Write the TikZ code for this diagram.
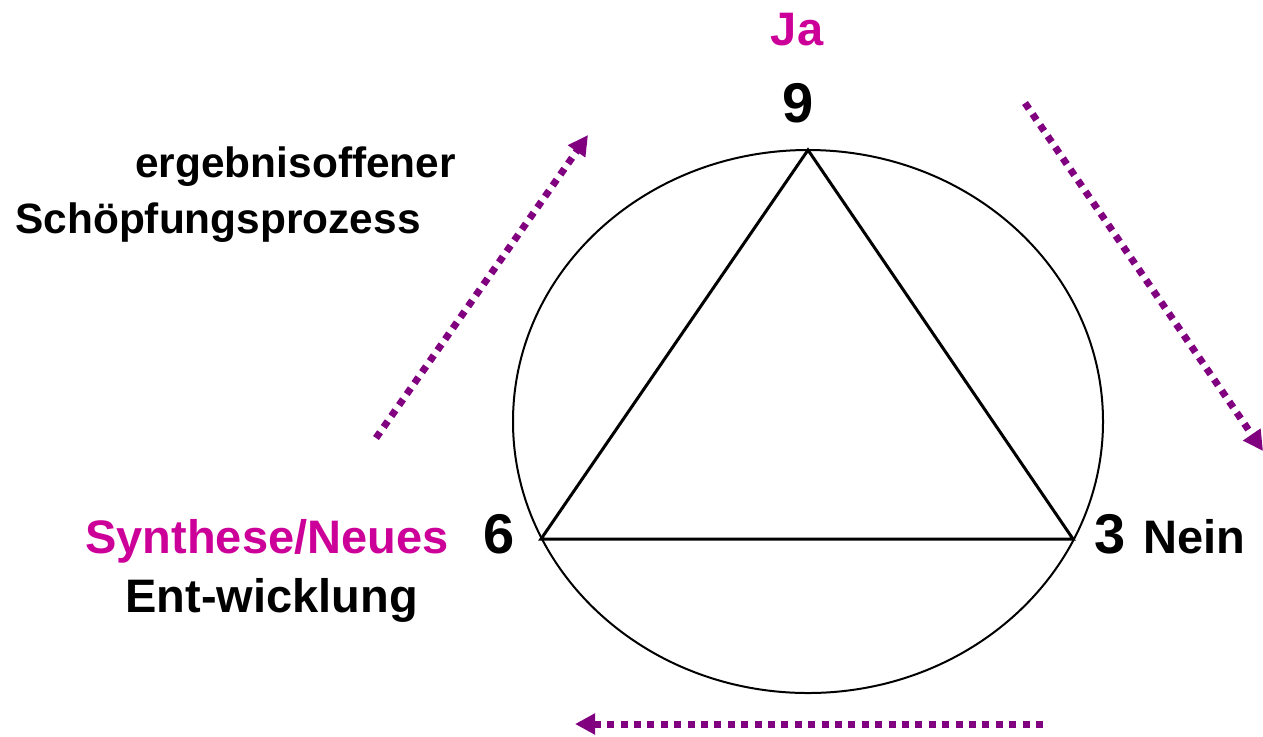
\documentclass[tikz,border=0pt]{standalone}
\usepackage{fontspec}
\setmainfont{Liberation Sans}
\usetikzlibrary{arrows.meta,positioning}
\definecolor{jamagenta}{HTML}{CC0099}
\definecolor{flowpurple}{HTML}{800080}

\begin{document}
\begin{tikzpicture}[x=0.5pt, y=-0.5pt,
        lbl/.style={inner sep=0pt, anchor=base west, font=\fontsize{23.5}{28}\selectfont\bfseries},
        small/.style={lbl, font=\fontsize{21.2}{26}\selectfont\bfseries},
        num/.style={lbl, font=\fontsize{28}{32}\selectfont\bfseries},
        flow/.style={flowpurple, line width=3.5pt, dash pattern=on 3.5pt off 3.2pt,
            -{Triangle[length=10pt, width=10pt]}}]
            \useasboundingbox (0,0) rectangle (1263,736);
            % circle and triangle
            \draw[line width=1pt] (808,421.5) ellipse [x radius=295, y radius=271.5];
            \coordinate (top) at (808,150);
            \coordinate (lft) at (541,539);
            \coordinate (rgt) at (1073,539);
            \draw[line width=1.5pt, line join=miter] (top) -- (lft) -- (rgt) -- cycle;
            % labels
            \node[lbl, jamagenta, anchor=base] (ja) at (797,45) {Ja};
            \node[num, anchor=base] (nine) at (798,122) {9};
            \node[num] (six) at (483,553) {6};
            \node[num] (three) at (1094,553) {3};
            \node[lbl] (nein) at (1143,553) {Nein};
            \node[lbl, jamagenta] (synth) at (85,553) {Synthese/Neues};
            \node[lbl] (entw) at (125,612) {Ent-wicklung};
            \node[small] (ergeb) at (135,177) {ergebnisoffener};
            \node[small] (schoepf) at (15,233) {Schöpfungsprozess};
            % flow arrows
            \coordinate (a1) at (376,438);
            \coordinate (b1) at (588,135);
            \coordinate (a2) at (1025,103);
            \coordinate (b2) at (1263,451);
            \coordinate (a3) at (1043,724);
            \coordinate (b3) at (575,724);
            \draw[flow] (a1) -- (b1);
            \draw[flow] (a2) -- (b2);
            \draw[flow] (a3) -- (b3);
        \end{tikzpicture}
\end{document}
